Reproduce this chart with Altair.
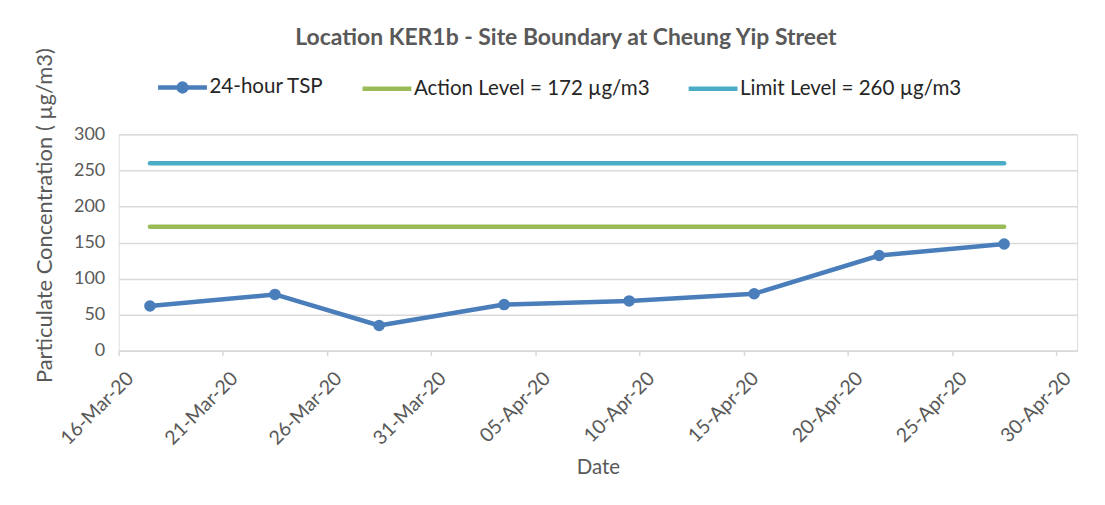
import altair as alt
import pandas as pd

# ---- data ----
tsp_dates = ["2020-03-17", "2020-03-23", "2020-03-28", "2020-04-03",
             "2020-04-09", "2020-04-15", "2020-04-21", "2020-04-27"]
tsp_values = [62, 78, 35, 64, 69, 79, 132, 148]
action_level = 172
limit_level = 260
series_names = ["24-hour TSP", "Action Level = 172 µg/m3", "Limit Level = 260 µg/m3"]
series_colors = ["#4a7ebb", "#9bbb59", "#4bacc6"]
tick_dates = ["2020-03-16", "2020-03-21", "2020-03-26", "2020-03-31", "2020-04-05",
              "2020-04-10", "2020-04-15", "2020-04-20", "2020-04-25", "2020-04-30"]
y_ticks = [0, 50, 100, 150, 200, 250, 300]

FONT = "Lato"
TXT = "#595959"

def dt(s):
    y, m, d = (int(v) for v in s.split("-"))
    return alt.DateTime(year=y, month=m, date=d)

def noon(s):
    return s + "T12:00:00"

rows = [{"date": noon(d), "value": v, "series": series_names[0]}
        for d, v in zip(tsp_dates, tsp_values)]
for name, lvl in ((series_names[1], action_level), (series_names[2], limit_level)):
    for d in (tsp_dates[0], tsp_dates[-1]):
        rows.append({"date": noon(d), "value": lvl, "series": name})
df = pd.DataFrame(rows)

color_scale = alt.Scale(domain=series_names, range=series_colors)

x_enc = alt.X(
    "date:T",
    scale=alt.Scale(domain=[dt("2020-03-16"), dt("2020-05-01")]),
    axis=alt.Axis(
        values=[dt(d) for d in tick_dates],
        format="%d-%b-%y",
        labelAngle=-45,
        labelAlign="right",
        labelBaseline="top",
        labelOffset=5,
        labelPadding=13,
        labelFont=FONT,
        labelFontSize=19.5,
        labelColor=TXT,
        labelOverlap=False,
        grid=False,
        domainColor="#d9d9d9",
        domainWidth=1.5,
        tickColor="#d9d9d9",
        tickWidth=1.5,
        tickSize=5,
        title="Date",
        titleFont=FONT,
        titleFontSize=20.5,
        titleFontWeight="normal",
        titleColor=TXT,
        titleBaseline="middle",
        titleY=117,
    ),
)
y_enc = alt.Y(
    "value:Q",
    scale=alt.Scale(domain=[0, 300], nice=False),
    axis=alt.Axis(
        values=y_ticks,
        labelFont=FONT,
        labelFontSize=18,
        labelColor=TXT,
        labelPadding=14,
        labelOverlap=False,
        ticks=False,
        domain=False,
        gridColor="#d9d9d9",
        gridWidth=1.5,
        title="Particulate Concentration ( µg/m3)",
        titleFont=FONT,
        titleFontSize=22,
        titleFontWeight="normal",
        titleColor=TXT,
        titleAngle=270,
        titleAlign="center",
        titleBaseline="middle",
        titleX=-74,
        titleY=81,
    ),
)
color_enc = alt.Color(
    "series:N",
    scale=color_scale,
    sort=series_names,
    legend=alt.Legend(
        orient="none",
        legendX=37,
        legendY=-74,
        direction="horizontal",
        title=None,
        symbolSize=2400,
        symbolStrokeWidth=4.5,
        symbolType=alt.ExprRef(expr="datum.value === '24-hour TSP' ? 'M-1,0L1,0M0.16,0A0.16,0.16 0 1,1 -0.16,0A0.16,0.16 0 1,1 0.16,0' : 'stroke'"),
        symbolFillColor=alt.ExprRef(expr="datum.value === '24-hour TSP' ? '#4a7ebb' : 'transparent'"),
        labelFont=FONT,
        labelFontSize=20.6,
        labelColor="#262626",
        labelOffset=0,
        columnPadding=29,
        labelLimit=400,
    ),
)

base = alt.Chart(df).encode(x=x_enc, y=y_enc, color=color_enc)

lines = base.mark_line(strokeWidth=4.5, strokeCap="round", strokeJoin="round").encode(
    detail="series:N"
)
points = base.mark_point(filled=True, size=135, opacity=1).transform_filter(
    alt.datum.series == series_names[0]
)

chart = alt.layer(lines, points).properties(
    width=961,
    height=217,
    autosize=alt.AutoSizeParams(type="none"),
    padding={"left": 111, "top": 126, "right": 20, "bottom": 150},
    title=alt.TitleParams(
        "Location KER1b - Site Boundary at Cheung Yip Street",
        font=FONT,
        fontSize=23,
        fontWeight="bold",
        color=TXT,
        anchor="middle",
        frame="group",
        dx=-32,
        dy=26,
        offset=5,
        baseline="alphabetic",
    ),
).configure_view(stroke=None).configure(background="white")

chart.save("out.html", embed_options={"renderer": "svg", "actions": False})
